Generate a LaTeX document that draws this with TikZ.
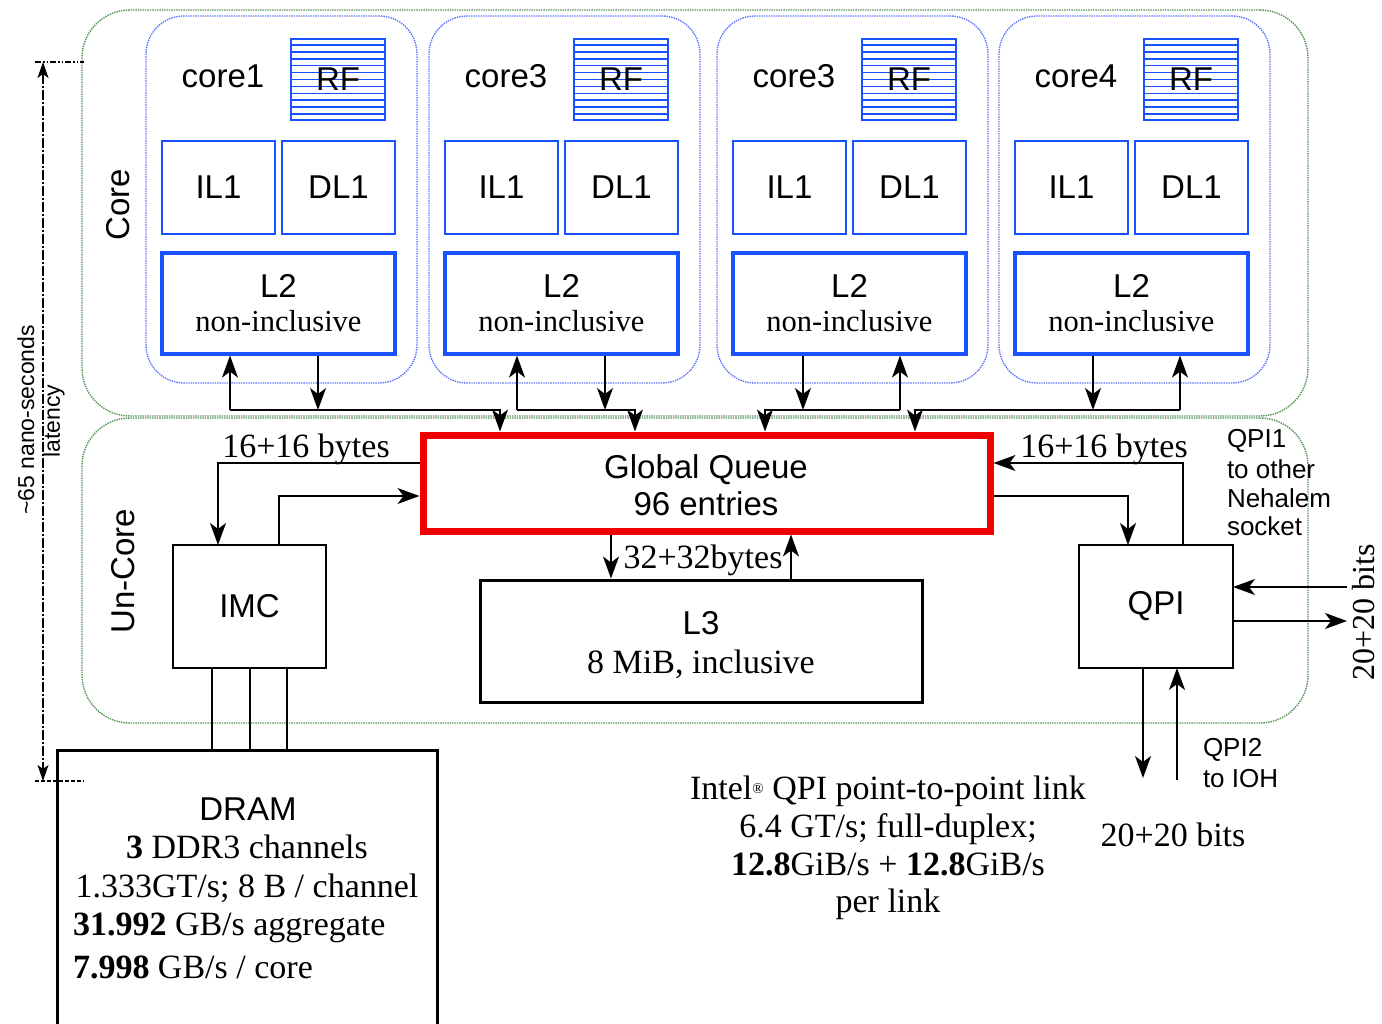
\documentclass[tikz,border=0pt]{standalone}
\usepackage{fontspec}
\setmainfont{Liberation Serif}
\setsansfont{Liberation Sans}
\usetikzlibrary{arrows.meta,calc}
\definecolor{cblue}{RGB}{25,80,255}
\definecolor{dblue}{RGB}{95,115,255}
\definecolor{dgreen}{RGB}{85,145,85}
\definecolor{gqred}{RGB}{240,0,0}
\newcommand\bx[7]{\node[#6, minimum width={(#4)-(#2)}, minimum height={(#5)-(#3)}] (#1) at ({((#2)+(#4))/2},{((#3)+(#5))/2}) {#7};}
\begin{document}
\begin{tikzpicture}[x=1pt,y=-1pt,
  every node/.style={inner sep=0pt},
  sanst/.style={font=\fontsize{33}{38}\selectfont\sffamily, outer sep=0pt},
  sert/.style={font=\fontsize{34}{40}\selectfont\rmfamily, outer sep=0pt},
  nonit/.style={font=\fontsize{30.5}{36}\selectfont\rmfamily, outer sep=0pt},
  smallt/.style={font=\fontsize{26}{30}\selectfont\sffamily, outer sep=0pt},
  latt/.style={font=\fontsize{23}{26}\selectfont\sffamily, rotate=90, outer sep=0pt},
  outerbox/.style={draw=dgreen, densely dotted, line width=1.4pt, rounded corners=48pt},
  corebox/.style={draw=dblue, densely dotted, line width=1.4pt, rounded corners=38pt},
  thinbox/.style={draw=cblue, line width=1.6pt},
  thickbox/.style={draw=cblue, line width=3.2pt},
  blkbox/.style={draw=black, line width=1.5pt},
  heavybox/.style={draw=black, line width=3pt},
  gqbox/.style={draw=gqred, line width=7pt},
  conn/.style={line width=1.5pt},
  arr/.style={line width=1.5pt, -{Stealth[length=22pt,width=16pt,inset=6pt]}},
]
\useasboundingbox (0,0) rectangle (1382,1024);
\clip (0,0) rectangle (1382,1024);
\fill[white] (0,0) rectangle (1382,1024);

% outer regions
\bx{corereg}{82}{10}{1308}{416}{outerbox}{}
\bx{uncorereg}{82}{418}{1308}{723}{outerbox}{}
\node[sanst, rotate=90] (corelab) at (118,205) {Core};
\node[sanst, rotate=90] (uncorelab) at (123,571) {Un-Core};

% cores
\foreach \o/\lab/\nm in {0/core1/a,283/core3/b,571/core3/c,853/core4/d}{
  \bx{cb\nm}{146+\o}{16}{417+\o}{383}{corebox}{}
  \node[sanst, anchor=base] (lab\nm) at ({223+\o},88) {\lab};
  \bx{rf\nm}{291+\o}{39}{385+\o}{120}{thinbox}{}
  \foreach \k in {1,...,11}{
    \draw[cblue,line width=1.4pt] ($(rf\nm.north west)!{\k/12}!(rf\nm.south west)$) -- ($(rf\nm.north east)!{\k/12}!(rf\nm.south east)$);
  }
  \node[sanst] (rft\nm) at (rf\nm) {RF};
  \bx{il\nm}{162+\o}{141}{275+\o}{234}{thinbox,sanst}{IL1}
  \bx{dl\nm}{282+\o}{141}{395+\o}{234}{thinbox,sanst}{DL1}
  \bx{ltwo\nm}{162+\o}{253}{395+\o}{354}{thickbox}{}
  \node[sanst, anchor=base] (ltt\nm) at ({278.5+\o},298) {L2};
  \node[nonit, anchor=base] (lts\nm) at ({278.5+\o},332) {non-inclusive};
}

% global queue, L3, IMC, QPI, DRAM
\bx{gq}{423}{435}{990}{531}{gqbox}{}
\node[sanst, anchor=base] (gqt1) at (706,478) {Global Queue};
\node[sanst, anchor=base] (gqt2) at (706,515) {96 entries};
\bx{l3}{480}{580}{922}{702}{heavybox}{}
\node[sanst, anchor=base] (l3t1) at (701,634) {L3};
\node[sert, anchor=base] (l3t2) at (701,673) {8 MiB, inclusive};
\bx{imc}{173}{545}{326}{668}{blkbox,sanst}{IMC}
\bx{qpi}{1079}{545}{1233}{668}{blkbox,sanst}{QPI}
\bx{dram}{57}{750}{437}{1060}{heavybox}{}

% core <-> GQ connectors
\coordinate (b1u) at (230,410); \coordinate (b1d) at (318,410); \coordinate (b1g) at (500,410);
\draw[arr] (b1u) -- (b1u |- ltwoa.south);
\draw[arr] (b1d |- ltwoa.south) -- (b1d);
\draw[arr] (b1u) -- (b1g) -- (b1g |- gq.north);
\coordinate (b2u) at (517,410); \coordinate (b2d) at (605,410); \coordinate (b2g) at (635,410);
\draw[arr] (b2u) -- (b2u |- ltwob.south);
\draw[arr] (b2d |- ltwob.south) -- (b2d);
\draw[arr] (b2u) -- (b2g) -- (b2g |- gq.north);
\coordinate (b3u) at (900,410); \coordinate (b3d) at (803,410); \coordinate (b3g) at (765,410);
\draw[arr] (b3u) -- (b3u |- ltwoc.south);
\draw[arr] (b3d |- ltwoc.south) -- (b3d);
\draw[arr] (b3u) -- (b3g) -- (b3g |- gq.north);
\coordinate (b4u) at (1180,410); \coordinate (b4d) at (1093,410); \coordinate (b4g) at (915,410);
\draw[arr] (b4u) -- (b4u |- ltwod.south);
\draw[arr] (b4d |- ltwod.south) -- (b4d);
\draw[arr] (b4u) -- (b4g) -- (b4g |- gq.north);

% GQ <-> IMC
\coordinate (imcL) at (218,463); \coordinate (imcR) at (279,496);
\draw[arr] (gq.west |- imcL) -- (imcL) -- (imcL |- imc.north);
\draw[arr] (imcR |- imc.north) -- (imcR) -- (imcR -| gq.west);
\node[sert, anchor=base] (bytesL) at (306,457) {16+16 bytes};
% GQ <-> QPI
\coordinate (qL) at (1128,496); \coordinate (qR) at (1183,463);
\draw[arr] (gq.east |- qL) -- (qL) -- (qL |- qpi.north);
\draw[arr] (qR |- qpi.north) -- (qR) -- (qR -| gq.east);
\node[sert, anchor=base] (bytesR) at (1104,457) {16+16 bytes};
% GQ <-> L3
\coordinate (l3d) at (611,560); \coordinate (l3u) at (791,560);
\draw[arr] (l3d |- gq.south) -- (l3d |- l3.north);
\draw[arr] (l3u |- l3.north) -- (l3u |- gq.south);
\node[sert, anchor=base] (bytesM) at (703,568) {32+32bytes};

% QPI external links
\coordinate (qi) at (1347,587); \coordinate (qo) at (1347,621);
\draw[arr] (qi) -- (qi -| qpi.east);
\draw[arr] (qo -| qpi.east) -- (qo);
\node[font=\fontsize{32}{36}\selectfont\rmfamily, rotate=90, outer sep=0pt] (bitsR) at (1364,612) {20+20 bits};
\coordinate (qd) at (1143,778); \coordinate (qu) at (1177,780);
\draw[arr] (qd |- qpi.south) -- (qd);
\draw[arr] (qu) -- (qu |- qpi.south);
\node[smallt, anchor=base west] (q1a) at (1227,447) {QPI1};
\node[smallt, anchor=base west] (q1b) at (1227,478) {to other};
\node[smallt, anchor=base west] (q1c) at (1227,507) {Nehalem};
\node[smallt, anchor=base west] (q1d) at (1227,535) {socket};
\node[smallt, anchor=base west] (q2a) at (1203,756) {QPI2};
\node[smallt, anchor=base west] (q2b) at (1203,787) {to IOH};
\node[sert, anchor=base] (bitsB) at (1173,846) {20+20 bits};

% IMC -> DRAM channels
\foreach \xx in {212,250,287}{
  \coordinate (ch\xx) at (\xx,700);
  \draw[conn] (ch\xx |- imc.south) -- (ch\xx |- dram.north);
}
\node[sanst, anchor=base] (dr1) at (248,820) {DRAM};
\node[sert, anchor=base] (dr2) at (247,858) {\textbf{3} DDR3 channels};
\node[sert, anchor=base] (dr3) at (247,897) {1.333GT/s; 8 B / channel};
\node[sert, anchor=base west] (dr4) at (73,935) {\textbf{31.992} GB/s aggregate};
\node[sert, anchor=base west] (dr5) at (73,978) {\textbf{7.998} GB/s / core};

% QPI link text
\node[sert, anchor=base] (in1) at (888,799) {Intel{\fontsize{15}{15}\selectfont\raisebox{6pt}{®}} QPI point-to-point link};
\node[sert, anchor=base] (in2) at (888,837) {6.4 GT/s; full-duplex;};
\node[sert, anchor=base] (in3) at (888,875) {\textbf{12.8}GiB/s + \textbf{12.8}GiB/s};
\node[sert, anchor=base] (in4) at (888,912) {per link};

% latency
\coordinate (lt) at (43,62); \coordinate (lb) at (43,781);
\coordinate (ltl) at (35,62); \coordinate (ltr) at (84,62);
\coordinate (lbl) at (35,781); \coordinate (lbr) at (84,781);
\draw[line width=1.3pt, dash pattern=on 10pt off 2pt on 2pt off 2pt, {Stealth[length=16pt,width=11pt,inset=4pt]}-{Stealth[length=16pt,width=11pt,inset=4pt]}] (lt) -- (lb);
\draw[line width=1.3pt, dash pattern=on 6pt off 2pt on 1.5pt off 2pt on 1.5pt off 2pt] (ltl) -- (ltr);
\draw[line width=1.3pt, dash pattern=on 4pt off 2pt] (lbl) -- (lbr);
\node[latt] (lat1) at (26,420) {\textasciitilde65 nano-seconds};
\node[latt] (lat2) at (54,421) {latency};
\end{tikzpicture}
\end{document}
